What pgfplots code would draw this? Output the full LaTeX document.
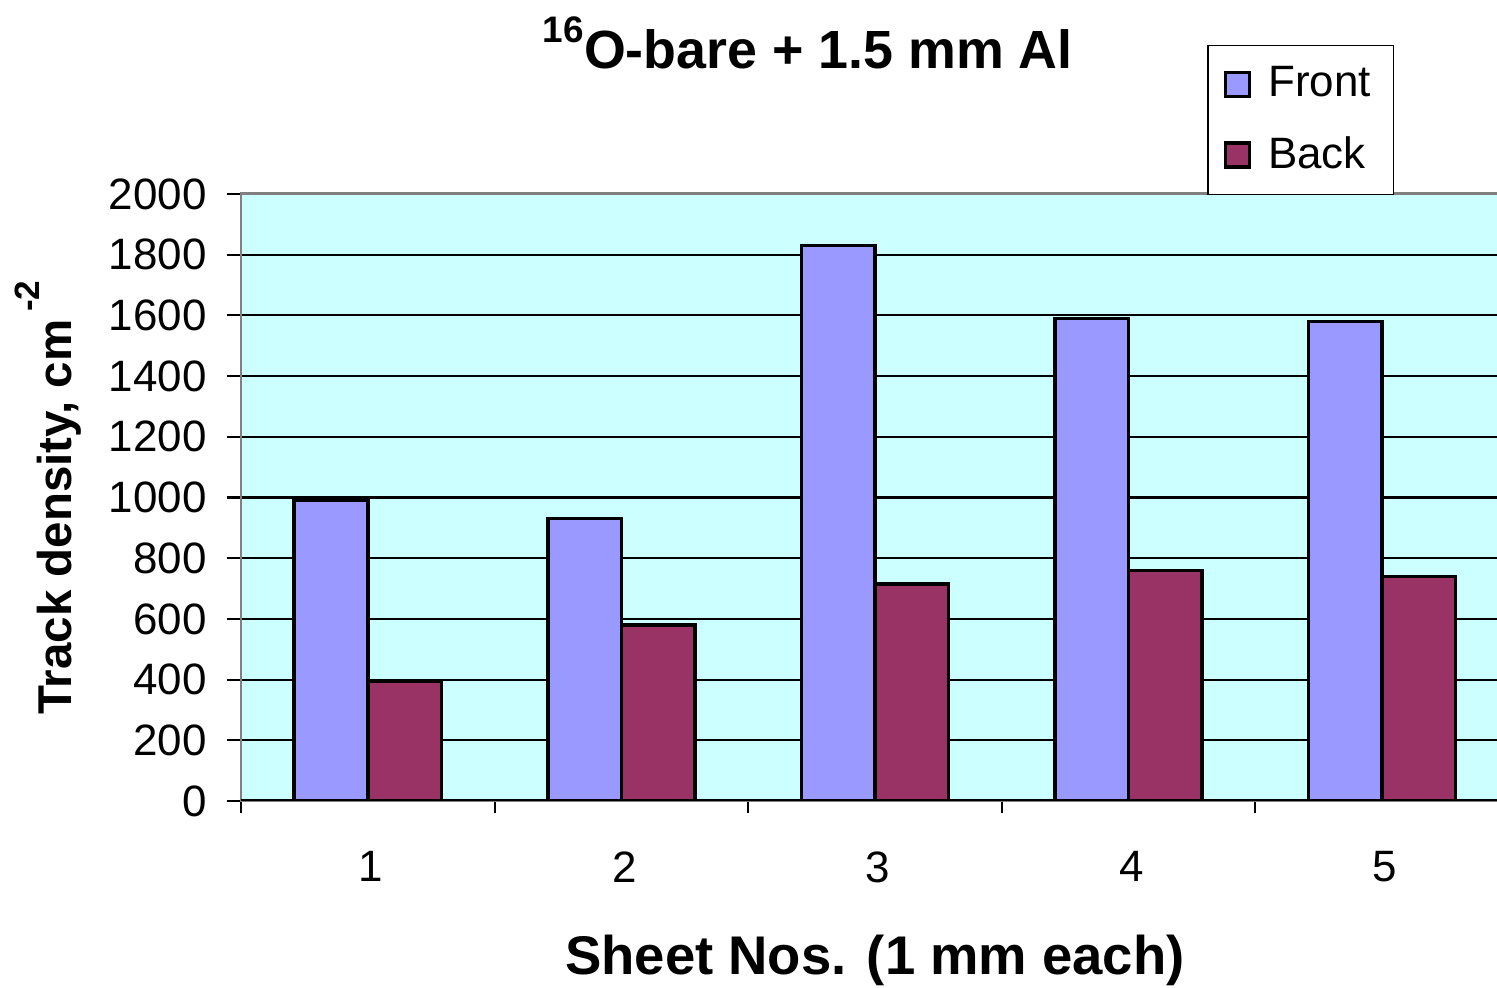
\documentclass[border=0pt]{standalone}
\usepackage{pgfplots}
\pgfplotsset{compat=1.18}
\usepackage{fontspec}
\setmainfont{Liberation Sans}

\definecolor{bgcyan}{HTML}{CCFFFF}
\definecolor{frontc}{HTML}{9999FF}
\definecolor{backc}{HTML}{993366}
\definecolor{boxgray}{HTML}{808080}

\begin{document}
\begin{tikzpicture}
\useasboundingbox (0,0) rectangle (14.97cm,9.88cm);
\begin{axis}[
    at={(2.41cm,1.87cm)}, anchor=south west,
    scale only axis,
    width=12.68cm, height=6.07cm,
    xmin=0.5, xmax=5.5,
    ymin=0, ymax=2000,
    ytick={0,200,...,2000},
    xtick={1,2,3,4,5},
    minor xtick={0.5,1.5,...,5.5},
    major x tick style={draw=none},
    minor tick length=0.12cm,
    major tick length=0.14cm,
    tick align=outside,
    tick style={black, line width=0.6pt},
    xtick pos=bottom, ytick pos=left,
    ymajorgrids,
    grid style={black, line width=0.6pt},
    axis line style={boxgray, line width=0.85pt},
    axis background/.style={fill=bgcyan},
    /pgf/number format/assume math mode=true,
    /pgf/number format/1000 sep={},
    tick label style={font=\fontsize{12.5}{14}\selectfont},
    xticklabel style={yshift=-0.24cm, xshift=0.03cm},
    yticklabel style={xshift=-0.08cm},
    ybar,
    bar width=0.29,
    title={\bfseries\fontsize{15.3}{17}\selectfont\raisebox{0.9ex}{\fontsize{10.5}{11}\selectfont 16}O-bare + 1.5 mm Al},
    title style={at={(axis description cs:0.447,1.214)}, anchor=center},
    xlabel={\bfseries Sheet Nos. (1 mm each)},
    xlabel style={font=\fontsize{15.5}{17}\selectfont, at={(axis description cs:0.5,-0.262)}, anchor=center},
    ylabel={\bfseries Track density, cm\,\raisebox{1.3ex}{\fontsize{10}{11}\selectfont -2}},
    ylabel style={font=\fontsize{13.5}{15}\selectfont, at={(axis description cs:-0.152,0.5)}, anchor=center},
    legend style={at={(axis description cs:0.762,1.2455)}, anchor=north west,
        draw=black, line width=0.4pt, font=\fontsize{12.5}{14}\selectfont,
        inner xsep=4.5pt, inner ysep=4pt, row sep=0.2cm},
    legend cell align=left,
    legend image code/.code={\draw[#1, line width=1pt] (0cm,-0.12cm) rectangle (0.24cm,0.12cm);
        \path (0.34cm,0);},
]
\addplot[draw=black, line width=1pt, fill=frontc, bar shift=-0.145] coordinates {
    (1,990) (2,930) (3,1830) (4,1590) (5,1580)
};
\addplot[draw=black, line width=1pt, fill=backc, bar shift=0.145] coordinates {
    (1,395) (2,580) (3,715) (4,760) (5,740)
};
\legend{Front, Back}
\draw[black, line width=0.85pt] (rel axis cs:0,0) -- (rel axis cs:1,0);
\end{axis}
\end{tikzpicture}
\end{document}
